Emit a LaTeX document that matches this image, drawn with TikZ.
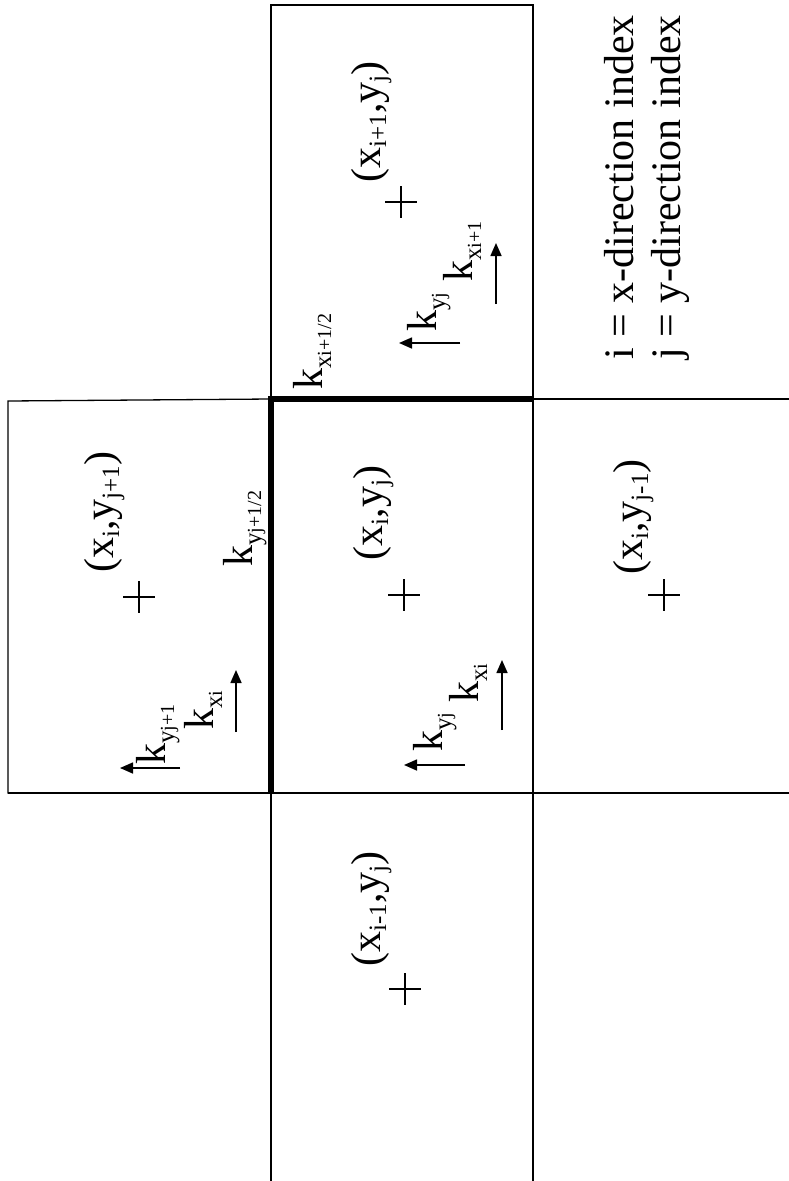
\documentclass[tikz,border=0pt]{standalone}
\usepackage{fontspec}
\setmainfont{Liberation Serif}
\usetikzlibrary{arrows.meta}
\newcommand\mainf{\fontsize{42}{48}\selectfont}
\newcommand\subf{\fontsize{25}{27}\selectfont}
\newcommand\ssubf{\fontsize{20}{22}\selectfont}
\newcommand\lo[1]{\raisebox{-6pt}{\subf #1}}
\newcommand\llo[2]{\raisebox{-9pt}{\subf #1\ssubf #2}}
\tikzset{
  lab/.style={rotate=90, inner sep=0pt, font=\mainf},
  gridline/.style={line width=1.3pt},
  boldline/.style={line width=6pt, line join=miter},
  flux/.style={line width=1.6pt, -{Triangle[length=13pt,width=11pt]}},
  crossline/.style={line width=1.2pt}
}
\begin{document}
\begin{tikzpicture}[x=1pt,y=-1pt]
\useasboundingbox (0,0) rectangle (789,1181);
% grid corners
\coordinate (t1) at (271,5);   \coordinate (t2) at (533,5);
\coordinate (l1) at (8,401);   \coordinate (c1) at (271,399);
\coordinate (c2) at (533,399); \coordinate (r1) at (789,399);
\coordinate (l2) at (8,793);   \coordinate (c3) at (271,793);
\coordinate (c4) at (533,793); \coordinate (r2) at (789,793);
\coordinate (b1) at (271,1181);\coordinate (b2) at (533,1181);
% thin cell lines
\draw[gridline] (c1) -- (t1) -- (t2) -- (c2);
\draw[gridline] (c1) -- (l1) -- (l2) -- (c3);
\draw[gridline] (c2) -- (r1);
\draw[gridline] (l2) -- (r2);
\draw[gridline] (c3) -- (b1);
\draw[gridline] (c2) -- (b2);
% bold faces
\draw[boldline] (c3) -- (c1) -- (c2);
% node crosses
\coordinate (ct) at (401,202);
\coordinate (cl) at (139,597);
\coordinate (cc) at (404,595);
\coordinate (cr) at (664,595);
\coordinate (cb) at (405,989);
\foreach \n in {ct,cl,cc,cr,cb}{
  \draw[crossline] (\n) +(-16,0) -- +(16,0) +(0,-16) -- +(0,16);
}
% coordinate labels
\node[lab, anchor=base] (ltop) at (380,122) {(x\lo{i+1},y\lo{j})};
\node[lab, anchor=base] (lleft) at (113,512) {(x\lo{i},y\lo{j+1})};
\node[lab, anchor=base] (lcen) at (382,513) {(x\lo{i},y\lo{j})};
\node[lab, anchor=base] (lright) at (642,517) {(x\lo{i},y\lo{j-1})};
\node[lab, anchor=base] (lbot) at (380,909) {(x\lo{i-1},y\lo{j})};
% interface conductivities
\node[lab, anchor=base west] (kxh) at (322,390) {k\llo{x}{i+1/2}};
\node[lab, anchor=base west] (kyh) at (252,567) {k\llo{y}{j+1/2}};
% top cell
\node[lab, anchor=base west] (kyt) at (436,332) {k\llo{y}{j}};
\node[lab, anchor=base west] (kxt) at (472,282) {k\llo{x}{i+1}};
\coordinate (ayt0) at (460,343); \coordinate (ayt1) at (399,343);
\coordinate (axt0) at (496,304); \coordinate (axt1) at (496,243);
\draw[flux] (ayt0) -- (ayt1);
\draw[flux] (axt0) -- (axt1);
% left cell
\node[lab, anchor=base west] (kyl) at (165,765) {k\llo{y}{j+1}};
\node[lab, anchor=base west] (kxl) at (213,730) {k\llo{x}{i}};
\coordinate (ayl0) at (180,768); \coordinate (ayl1) at (120,768);
\coordinate (axl0) at (236,732); \coordinate (axl1) at (236,670);
\draw[flux] (ayl0) -- (ayl1);
\draw[flux] (axl0) -- (axl1);
% center cell
\node[lab, anchor=base west] (kyc) at (442,752) {k\llo{y}{j}};
\node[lab, anchor=base west] (kxc) at (478,703) {k\llo{x}{i}};
\coordinate (ayc0) at (465,765); \coordinate (ayc1) at (404,765);
\coordinate (axc0) at (502,730); \coordinate (axc1) at (502,660);
\draw[flux] (ayc0) -- (ayc1);
\draw[flux] (axc0) -- (axc1);
% legend
\node[lab, anchor=base west] (leg1) at (633,360) {i = x-direction index};
\node[lab, anchor=base west] (leg2) at (680,360) {j = y-direction index};
\end{tikzpicture}
\end{document}
